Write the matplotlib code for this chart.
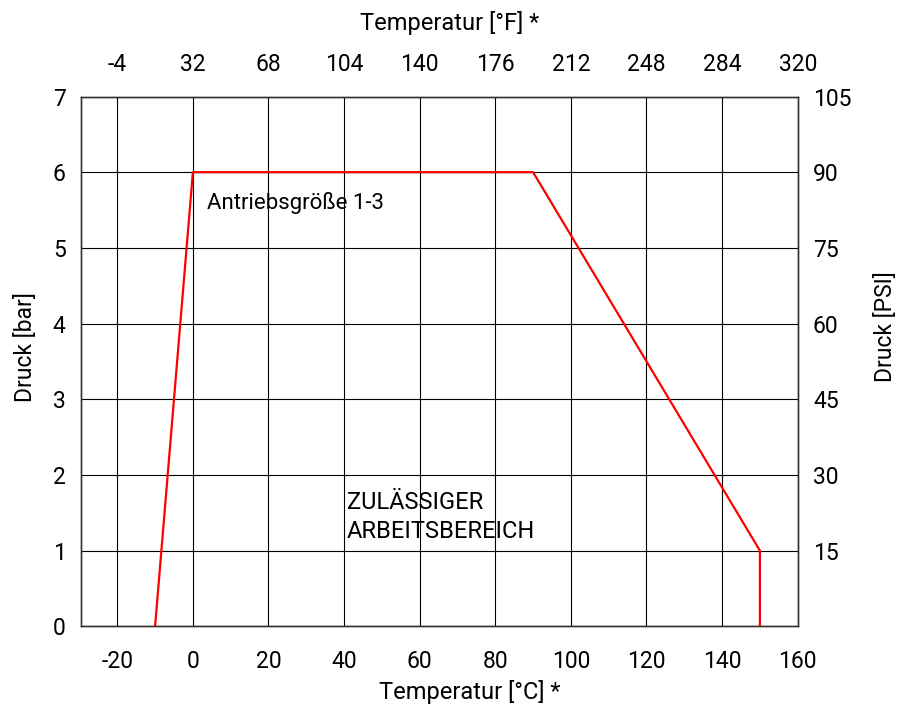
import matplotlib
matplotlib.use("Agg")
import matplotlib.pyplot as plt

plt.rcParams["font.family"] = ["Roboto", "DejaVu Sans"]
plt.rcParams["font.size"] = 16.5
plt.rcParams["axes.unicode_minus"] = False

# Grenzkurve des zulässigen Arbeitsbereichs
temp_c = [-10, 0, 90, 150, 150]
druck_bar = [0, 6, 6, 1, 0]

c_ticks = [-20, 0, 20, 40, 60, 80, 100, 120, 140, 160]
f_labels = ["-4", "32", "68", "104", "140", "176", "212", "248", "284", "320"]
bar_ticks = [0, 1, 2, 3, 4, 5, 6, 7]
psi_ticks = [15, 30, 45, 60, 75, 90, 105]

fig = plt.figure(figsize=(8.98, 7.06), dpi=100)
ax = fig.add_axes([0.0902, 0.1129, 0.7981, 0.7504])

ax.set_xlim(-29.6, 160)
ax.set_ylim(0, 7)
ax.set_xticks(c_ticks)
ax.set_yticks(bar_ticks)
ax.grid(True, color="black", linewidth=0.8)
ax.set_axisbelow(True)
ax.tick_params(axis="x", length=0, pad=17)
ax.tick_params(axis="y", length=0, pad=11)

ax.plot(temp_c, druck_bar, color="#ff0000", linewidth=1.6, zorder=3)

ax.text(3.8, 5.59, "Antriebsgröße 1-3", va="center", ha="left", fontsize=16)
ax.text(40.8, 1.44, "ZULÄSSIGER\nARBEITSBEREICH", va="center", ha="left",
        fontsize=17, linespacing=1.32)

ax.set_xlabel("Temperatur [°C] *", fontsize=17, va="center")
ax.xaxis.set_label_coords(0.543, -0.124)
ax.set_ylabel("Druck [bar]", fontsize=16.5, va="center")
ax.yaxis.set_label_coords(-0.078, 0.527)

for s in ax.spines.values():
    s.set_color("#333333")
    s.set_linewidth(0.9)

# obere Achse in °F
ax_top = ax.twiny()
ax_top.set_xlim(ax.get_xlim())
ax_top.set_xticks(c_ticks)
ax_top.set_xticklabels(f_labels)
ax_top.tick_params(axis="x", length=0, pad=15)
ax_top.set_xlabel("Temperatur [°F] *", fontsize=17, va="center")
ax_top.xaxis.set_label_coords(0.514, 1.138)

# rechte Achse in PSI
ax_right = ax.twinx()
ax_right.set_ylim(0, 105)
ax_right.set_yticks(psi_ticks)
ax_right.tick_params(axis="y", length=0, pad=11)
ax_right.set_ylabel("Druck [PSI]", fontsize=16.5, va="center")
ax_right.yaxis.set_label_coords(1.123, 0.565)

for a in (ax_top, ax_right):
    for s in a.spines.values():
        s.set_color("#333333")
        s.set_linewidth(0.9)

fig.savefig("out.png", dpi=100)
